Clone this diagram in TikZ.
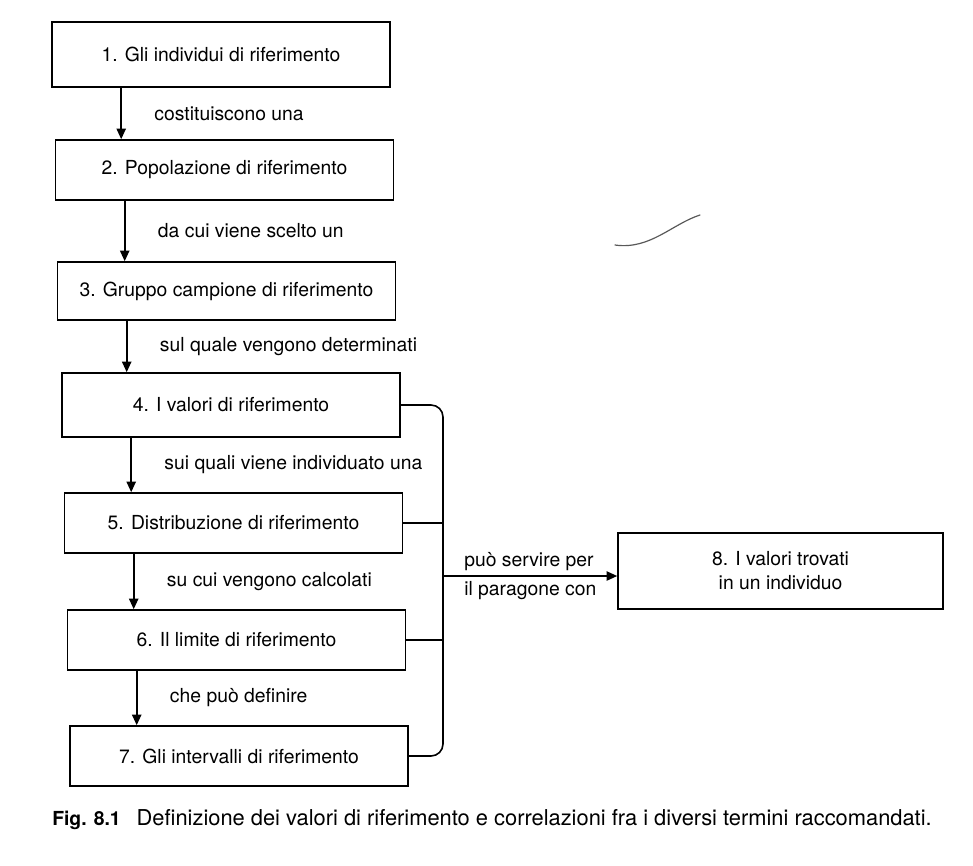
\documentclass[tikz,border=0pt]{standalone}
\usepackage{fontspec}
\setmainfont{TeX Gyre Heros}
\usetikzlibrary{arrows.meta,calc}
\begin{document}
\begin{tikzpicture}[x=0.75pt,y=-0.75pt,
  every node/.style={font=\fontsize{14.5}{18}\selectfont},
  stepbox/.style={draw,line width=1.2pt,minimum width=253.5pt,minimum height=45pt,inner sep=0pt},
  flow/.style={line width=1.2pt,-{Triangle[length=8pt,width=7pt]}},
  link/.style={line width=1.2pt},
  lbl/.style={anchor=west,inner sep=0pt}]
\useasboundingbox (0,0) rectangle (973,865);

% the chain of boxes 1-7
\node[stepbox,minimum height=48.75pt] (b1) at (221,54.5) {1. Gli individui di riferimento};
\node[stepbox] (b2) at (224.5,170) {2. Popolazione di riferimento};
\node[stepbox,minimum height=43.5pt] (b3) at (226.5,291) {3. Gruppo campione di riferimento};
\node[stepbox,minimum height=48pt] (b4) at (231,405) {4. I valori di riferimento};
\node[stepbox] (b5) at (233.5,523) {5. Distribuzione di riferimento};
\node[stepbox] (b6) at (236.5,640) {6. Il limite di riferimento};
\node[stepbox] (b7) at (239,756) {7. Gli intervalli di riferimento};

% target box
\node[stepbox,minimum width=243.75pt,minimum height=57pt,align=center] (b8) at (780.5,571)
  {8. I valori trovati\\in un individuo};

% downward arrows with their labels
\foreach \a/\b/\t in {b1/b2/costituiscono una,
                      b2/b3/da cui viene scelto un,
                      b3/b4/sul quale vengono determinati,
                      b4/b5/sui quali viene individuato una,
                      b5/b6/su cui vengono calcolati,
                      b6/b7/che può definire}{
  \coordinate (s) at ([xshift=52.5pt]\a.south west);
  \draw[flow] (s) -- (s |- \b.north);
  \node[lbl] at ($(s)!0.5!(s |- \b.north)+(33,0)$) {\t};
}

% bracket collecting boxes 4-7
\coordinate (bt) at (443,405);
\coordinate (bb) at (443,756);
\draw[link,rounded corners=9pt] (b4.east) -- (bt) -- (bb) -- (b7.east);
\draw[link] (b5.east) -- (b5.east -| bt);
\draw[link] (b6.east) -- (b6.east -| bt);

% comparison arrow
\coordinate (tap) at (443,576);
\draw[flow] (tap) -- (tap -| b8.west);
\node[lbl] at (464,562) {può servire per};
\node[lbl] at (464,591) {il paragone con};

% pencil stroke on the page
\draw[gray!70!black,line width=0.9pt,line cap=round] (615,245) .. controls (650,250) and (672,224) .. (700,215);

% caption
\node[lbl] (cap) at (52,820) {\textbf{Fig. 8.1}\hspace{12pt}{\fontsize{16.4}{18}\selectfont Definizione dei valori di riferimento e correlazioni fra i diversi termini raccomandati.}};
\end{tikzpicture}
\end{document}
